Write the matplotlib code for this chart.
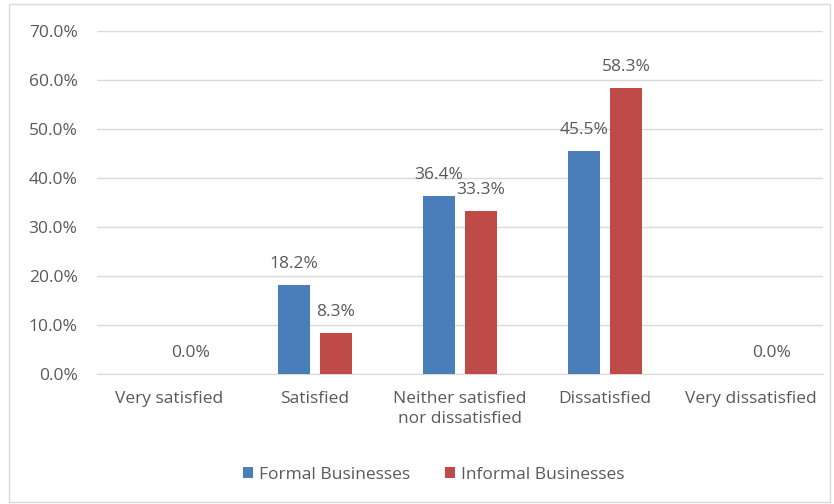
import numpy as np
import matplotlib
matplotlib.use('Agg')
import matplotlib.pyplot as plt
from matplotlib.patches import Rectangle

categories = ['Very satisfied', 'Satisfied', 'Neither satisfied\nnor dissatisfied',
              'Dissatisfied', 'Very dissatisfied']
formal = [np.nan, 18.2, 36.4, 45.5, np.nan]
informal = [0.0, 8.3, 33.3, 58.3, 0.0]
yticks = [0, 10, 20, 30, 40, 50, 60, 70]

blue = '#4A7EBB'
red = '#BE4B48'
txt = '#595959'
fs = 12.5

plt.rcParams['font.family'] = ['Open Sans', 'DejaVu Sans']

fig = plt.figure(figsize=(8.34, 5.04), dpi=100)
ax = fig.add_axes([0.1163, 0.258, 0.8705, 0.6805])

x = np.arange(len(categories))
w = 0.22
off = 0.145

def draw(vals, pos, color, label):
    vals = np.array(vals, dtype=float)
    ok = ~np.isnan(vals)
    bars = ax.bar(pos[ok], vals[ok], width=w, color=color, label=label, zorder=3)
    for xi, v in zip(pos[ok], vals[ok]):
        ax.annotate('%.1f%%' % v, (xi, v), xytext=(0, 15), textcoords='offset points',
                    ha='center', va='center', fontsize=fs, color=txt)
    return bars

draw(formal, x - off, blue, 'Formal Businesses')
draw(informal, x + off, red, 'Informal Businesses')

ax.set_xlim(-0.5, len(categories) - 0.5)
ax.set_ylim(0, 70)
ax.set_yticks(yticks)
ax.set_yticklabels(['%.1f%%' % t for t in yticks])
ax.set_xticks(x)
ax.set_xticklabels(categories, linespacing=1.35)
ax.yaxis.grid(True, color='#D9D9D9', lw=1, zorder=0)
for s in ['top', 'right', 'left']:
    ax.spines[s].set_visible(False)
ax.spines['bottom'].set_color('#D9D9D9')
ax.tick_params(axis='both', length=0, labelsize=fs, colors=txt)
ax.tick_params(axis='y', pad=14)
ax.tick_params(axis='x', pad=12)

ax.legend(loc='center', bbox_to_anchor=(0.52, 0.058), bbox_transform=fig.transFigure,
          ncol=2, frameon=False, fontsize=fs, labelcolor=txt, handlelength=0.6,
          handleheight=0.6, handletextpad=0.35, columnspacing=2.0)

fig.patches.append(Rectangle((0.011, 0.004), 0.984, 0.988, transform=fig.transFigure,
                             fill=False, edgecolor='#D9D9D9', lw=1))

fig.savefig('out.png', dpi=100)
